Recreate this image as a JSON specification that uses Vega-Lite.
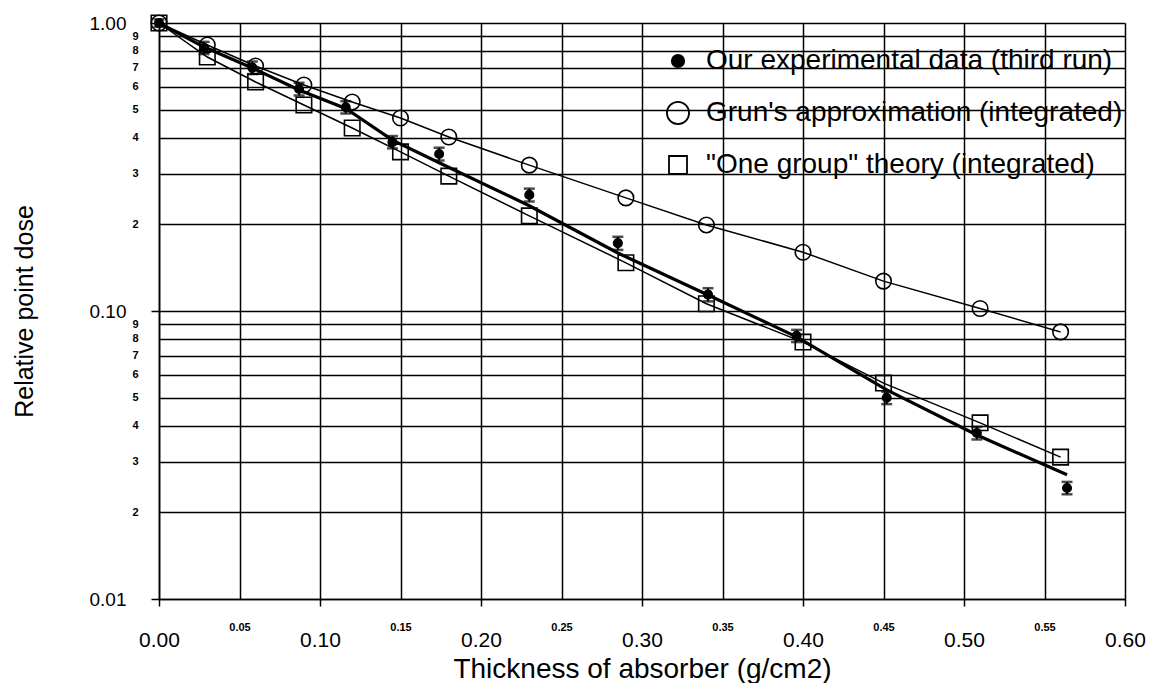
{
  "$schema": "https://vega.github.io/schema/vega-lite/v6.json",
  "width": 966,
  "height": 576,
  "autosize": {"type": "none"},
  "padding": {"left": 159, "top": 23, "right": 27, "bottom": 84},
  "background": "white",
  "config": {
    "view": {"stroke": null},
    "font": "Liberation Sans",
    "legend": {
      "orient": "none", "legendX": 505, "legendY": 24, "padding": 0,
      "labelFont": "Liberation Sans", "labelFontSize": 28, "labelColor": "black", "labelLimit": 800,
      "labelOffset": 14, "rowPadding": 23, "symbolStrokeWidth": 1.8, "symbolStrokeColor": "black"
    }
  },
  "datasets": {
    "pts": [
      {"series": "Our experimental data (third run)", "x": 0.0, "y": 1.0, "lo": 0.97, "hi": 1.03},
      {"series": "Our experimental data (third run)", "x": 0.028, "y": 0.82, "lo": 0.78, "hi": 0.86},
      {"series": "Our experimental data (third run)", "x": 0.058, "y": 0.70, "lo": 0.665, "hi": 0.735},
      {"series": "Our experimental data (third run)", "x": 0.087, "y": 0.59, "lo": 0.56, "hi": 0.62},
      {"series": "Our experimental data (third run)", "x": 0.116, "y": 0.51, "lo": 0.485, "hi": 0.535},
      {"series": "Our experimental data (third run)", "x": 0.145, "y": 0.386, "lo": 0.367, "hi": 0.405},
      {"series": "Our experimental data (third run)", "x": 0.174, "y": 0.351, "lo": 0.333, "hi": 0.369},
      {"series": "Our experimental data (third run)", "x": 0.230, "y": 0.253, "lo": 0.240, "hi": 0.266},
      {"series": "Our experimental data (third run)", "x": 0.285, "y": 0.172, "lo": 0.163, "hi": 0.181},
      {"series": "Our experimental data (third run)", "x": 0.341, "y": 0.114, "lo": 0.108, "hi": 0.120},
      {"series": "Our experimental data (third run)", "x": 0.396, "y": 0.082, "lo": 0.078, "hi": 0.086},
      {"series": "Our experimental data (third run)", "x": 0.452, "y": 0.050, "lo": 0.0475, "hi": 0.0525},
      {"series": "Our experimental data (third run)", "x": 0.508, "y": 0.0377, "lo": 0.0358, "hi": 0.0396},
      {"series": "Our experimental data (third run)", "x": 0.564, "y": 0.0243, "lo": 0.0231, "hi": 0.0255},
      {"series": "Grun's approximation (integrated)", "x": 0.0, "y": 1.0},
      {"series": "Grun's approximation (integrated)", "x": 0.03, "y": 0.839},
      {"series": "Grun's approximation (integrated)", "x": 0.06, "y": 0.709},
      {"series": "Grun's approximation (integrated)", "x": 0.09, "y": 0.609},
      {"series": "Grun's approximation (integrated)", "x": 0.12, "y": 0.532},
      {"series": "Grun's approximation (integrated)", "x": 0.15, "y": 0.468},
      {"series": "Grun's approximation (integrated)", "x": 0.18, "y": 0.402},
      {"series": "Grun's approximation (integrated)", "x": 0.23, "y": 0.321},
      {"series": "Grun's approximation (integrated)", "x": 0.29, "y": 0.247},
      {"series": "Grun's approximation (integrated)", "x": 0.34, "y": 0.199},
      {"series": "Grun's approximation (integrated)", "x": 0.40, "y": 0.160},
      {"series": "Grun's approximation (integrated)", "x": 0.45, "y": 0.127},
      {"series": "Grun's approximation (integrated)", "x": 0.51, "y": 0.102},
      {"series": "Grun's approximation (integrated)", "x": 0.56, "y": 0.0846},
      {"series": "\"One group\" theory (integrated)", "x": 0.0, "y": 1.0},
      {"series": "\"One group\" theory (integrated)", "x": 0.03, "y": 0.762},
      {"series": "\"One group\" theory (integrated)", "x": 0.06, "y": 0.624},
      {"series": "\"One group\" theory (integrated)", "x": 0.09, "y": 0.519},
      {"series": "\"One group\" theory (integrated)", "x": 0.12, "y": 0.432},
      {"series": "\"One group\" theory (integrated)", "x": 0.15, "y": 0.357},
      {"series": "\"One group\" theory (integrated)", "x": 0.18, "y": 0.294},
      {"series": "\"One group\" theory (integrated)", "x": 0.23, "y": 0.214},
      {"series": "\"One group\" theory (integrated)", "x": 0.29, "y": 0.147},
      {"series": "\"One group\" theory (integrated)", "x": 0.34, "y": 0.106},
      {"series": "\"One group\" theory (integrated)", "x": 0.40, "y": 0.078},
      {"series": "\"One group\" theory (integrated)", "x": 0.45, "y": 0.0562},
      {"series": "\"One group\" theory (integrated)", "x": 0.51, "y": 0.0409},
      {"series": "\"One group\" theory (integrated)", "x": 0.56, "y": 0.0311}
    ],
    "fit": [
      {"x": 0.0, "y": 1.0},
      {"x": 0.028, "y": 0.825},
      {"x": 0.058, "y": 0.698},
      {"x": 0.087, "y": 0.585},
      {"x": 0.116, "y": 0.505},
      {"x": 0.145, "y": 0.392},
      {"x": 0.174, "y": 0.327},
      {"x": 0.230, "y": 0.232},
      {"x": 0.285, "y": 0.159},
      {"x": 0.341, "y": 0.1137},
      {"x": 0.396, "y": 0.0813},
      {"x": 0.452, "y": 0.0532},
      {"x": 0.508, "y": 0.0371},
      {"x": 0.564, "y": 0.0270}
    ]
  },
  "layer": [
    {
      "data": {"name": "pts"},
      "transform": [{"filter": {"field": "series", "oneOf": ["Grun's approximation (integrated)", "\"One group\" theory (integrated)"]}}],
      "mark": {"type": "line", "color": "black", "strokeWidth": 1.5},
      "encoding": {
        "x": {
          "field": "x", "type": "quantitative", "title": "Thickness of absorber (g/cm2)",
          "scale": {"domain": [0, 0.6], "nice": false, "zero": false},
          "axis": {
            "values": [0, 0.05, 0.1, 0.15, 0.2, 0.25, 0.3, 0.35, 0.4, 0.45, 0.5, 0.55, 0.6],
            "format": ".2f",
            "labelFont": "Liberation Sans",
            "labelColor": "black",
            "labelFontSize": {"condition": {"test": "round(datum.value*100) % 10 == 5", "value": 11}, "value": 21},
            "labelFontWeight": {"condition": {"test": "round(datum.value*100) % 10 == 5", "value": "bold"}, "value": "normal"},
            "labelPadding": {"condition": {"test": "round(datum.value*100) % 10 == 5", "value": 15}, "value": 23},
            "tickColor": {"condition": {"test": "round(datum.value*100) % 10 == 5", "value": "transparent"}, "value": "black"},
            "tickSize": 7,
            "tickWidth": 1.5,
            "grid": true,
            "gridColor": "black",
            "gridWidth": 1.5,
            "gridOpacity": 1,
            "domainColor": "black",
            "domainWidth": 1.6,
            "labelOverlap": false,
            "labelFlush": false,
            "labelBound": false,
            "titleFont": "Liberation Sans",
            "titleFontSize": 28,
            "titleFontWeight": "normal",
            "titleColor": "black",
            "titlePadding": 5
          }
        },
        "y": {
          "field": "y", "type": "quantitative", "title": "Relative point dose",
          "scale": {"type": "log", "domain": [0.01, 1], "nice": false},
          "axis": {
            "values": [0.01, 0.02, 0.03, 0.04, 0.05, 0.06, 0.07, 0.08, 0.09, 0.1, 0.2, 0.3, 0.4, 0.5, 0.6, 0.7, 0.8, 0.9, 1],
            "labelExpr": "(datum.value > 0.95 || (datum.value > 0.095 && datum.value < 0.105) || datum.value < 0.0105) ? format(datum.value, '.2f') : (datum.value > 0.1 ? format(datum.value*10, '.0f') : format(datum.value*100, '.0f'))",
            "labelFont": "Liberation Sans",
            "labelColor": "black",
            "labelFontSize": {"condition": {"test": "datum.value > 0.95 || (datum.value > 0.095 && datum.value < 0.105) || datum.value < 0.0105", "value": 19}, "value": 11},
            "labelFontWeight": {"condition": {"test": "datum.value > 0.95 || (datum.value > 0.095 && datum.value < 0.105) || datum.value < 0.0105", "value": "normal"}, "value": "bold"},
            "labelPadding": {"condition": {"test": "datum.value > 0.95 || (datum.value > 0.095 && datum.value < 0.105) || datum.value < 0.0105", "value": 25}, "value": 13},
            "tickColor": {"condition": {"test": "datum.value > 0.95 || (datum.value > 0.095 && datum.value < 0.105) || datum.value < 0.0105", "value": "black"}, "value": "transparent"},
            "tickSize": 8,
            "tickWidth": 1.5,
            "grid": true,
            "gridColor": "black",
            "gridWidth": 1.5,
            "gridOpacity": 1,
            "domainColor": "black",
            "domainWidth": 1.6,
            "labelOverlap": false,
            "labelFlush": false,
            "labelBound": false,
            "titleFont": "Liberation Sans",
            "titleFontSize": 25,
            "titleFontWeight": "normal",
            "titleColor": "black",
            "titlePadding": 52
          }
        },
        "detail": {"field": "series", "type": "nominal"}
      }
    },
    {
      "data": {"name": "fit"},
      "mark": {"type": "line", "color": "black", "strokeWidth": 3.2},
      "encoding": {
        "x": {"field": "x", "type": "quantitative", "title": "Thickness of absorber (g/cm2)"},
        "y": {"field": "y", "type": "quantitative", "title": "Relative point dose"}
      }
    },
    {
      "data": {"name": "pts"},
      "transform": [{"filter": {"field": "series", "equal": "Our experimental data (third run)"}}],
      "mark": {"type": "errorbar", "color": "black", "thickness": 2, "ticks": {"size": 11, "thickness": 2.5}},
      "encoding": {
        "x": {"field": "x", "type": "quantitative", "title": "Thickness of absorber (g/cm2)"},
        "y": {"field": "lo", "type": "quantitative", "title": "Relative point dose"},
        "y2": {"field": "hi"}
      }
    },
    {
      "data": {"name": "pts"},
      "transform": [{"filter": {"field": "series", "oneOf": ["Grun's approximation (integrated)", "\"One group\" theory (integrated)"]}}],
      "mark": {"type": "point", "strokeWidth": 1.6, "opacity": 1, "size": 240},
      "encoding": {
        "x": {"field": "x", "type": "quantitative", "title": "Thickness of absorber (g/cm2)"},
        "y": {"field": "y", "type": "quantitative", "title": "Relative point dose"},
        "shape": {"field": "series", "type": "nominal", "legend": {"title": null}},
        "fill": {"field": "series", "type": "nominal", "legend": {"title": null}},
        "stroke": {"field": "series", "type": "nominal", "legend": {"title": null}}
      }
    },
    {
      "data": {"name": "pts"},
      "transform": [{"filter": {"field": "series", "equal": "Our experimental data (third run)"}}],
      "mark": {"type": "point", "strokeWidth": 1.6, "opacity": 1, "size": 72},
      "encoding": {
        "x": {"field": "x", "type": "quantitative", "title": "Thickness of absorber (g/cm2)"},
        "y": {"field": "y", "type": "quantitative", "title": "Relative point dose"},
        "shape": {"field": "series", "type": "nominal", "legend": {"title": null}},
        "fill": {"field": "series", "type": "nominal", "legend": {"title": null}},
        "stroke": {"field": "series", "type": "nominal", "legend": {"title": null}}
      }
    },
    {
      "data": {"name": "pts"},
      "transform": [{"filter": "false"}],
      "mark": {"type": "point", "strokeWidth": 1.8, "opacity": 1},
      "encoding": {
        "x": {"field": "x", "type": "quantitative", "title": "Thickness of absorber (g/cm2)"},
        "y": {"field": "y", "type": "quantitative", "title": "Relative point dose"},
        "shape": {
          "field": "series", "type": "nominal",
          "scale": {"domain": ["Our experimental data (third run)", "Grun's approximation (integrated)", "\"One group\" theory (integrated)"], "range": ["circle", "circle", "square"]},
          "legend": {"title": null}
        },
        "fill": {
          "field": "series", "type": "nominal",
          "scale": {"domain": ["Our experimental data (third run)", "Grun's approximation (integrated)", "\"One group\" theory (integrated)"], "range": ["black", "transparent", "transparent"]},
          "legend": {"title": null}
        },
        "stroke": {
          "field": "series", "type": "nominal",
          "scale": {"domain": ["Our experimental data (third run)", "Grun's approximation (integrated)", "\"One group\" theory (integrated)"], "range": ["black", "black", "black"]},
          "legend": {"title": null}
        },
        "size": {
          "field": "series", "type": "nominal",
          "scale": {"type": "ordinal", "domain": ["Our experimental data (third run)", "Grun's approximation (integrated)", "\"One group\" theory (integrated)"], "range": [154, 491, 324]},
          "legend": {"title": null}
        }
      }
    }
  ]
}
